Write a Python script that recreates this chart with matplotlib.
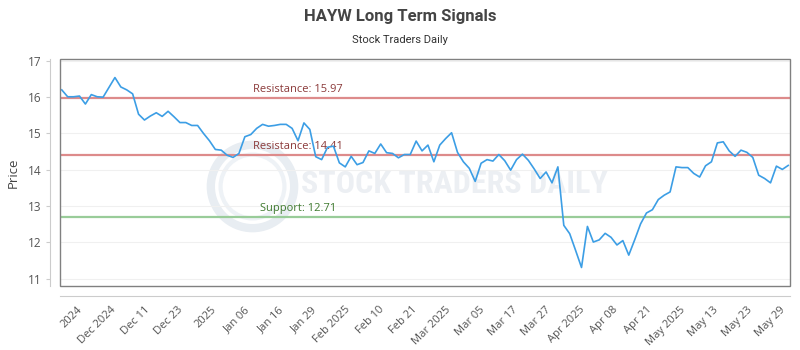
import numpy as np
import matplotlib
matplotlib.use('Agg')
import matplotlib.pyplot as plt
from matplotlib.patches import Rectangle

# closing prices (one per trading day)
prices = [
    16.20, 16.01, 16.01, 16.03, 15.81, 16.07, 16.01, 16.00, 16.27, 16.54,
    16.28, 16.20, 16.09, 15.53, 15.37, 15.48, 15.57, 15.47, 15.61, 15.46,
    15.30, 15.30, 15.22, 15.22, 15.00, 14.80, 14.56, 14.54, 14.40, 14.34,
    14.45, 14.91, 14.97, 15.14, 15.25, 15.20, 15.22, 15.25, 15.25, 15.14,
    14.80, 15.29, 15.11, 14.36, 14.28, 14.62, 14.65, 14.19, 14.08, 14.37,
    14.14, 14.20, 14.52, 14.45, 14.71, 14.47, 14.45, 14.33, 14.42, 14.42,
    14.79, 14.52, 14.68, 14.22, 14.68, 14.86, 15.02, 14.48, 14.22, 14.04,
    13.68, 14.18, 14.28, 14.24, 14.42, 14.25, 13.99, 14.28, 14.43, 14.26,
    14.02, 13.76, 13.94, 13.64, 14.08, 12.47, 12.24, 11.78, 11.31, 12.44,
    12.01, 12.07, 12.25, 12.14, 11.93, 12.05, 11.65, 12.07, 12.51, 12.81,
    12.90, 13.18, 13.30, 13.39, 14.08, 14.06, 14.06, 13.90, 13.80, 14.11,
    14.22, 14.74, 14.77, 14.52, 14.37, 14.54, 14.48, 14.34, 13.85, 13.76,
    13.64, 14.10, 14.01, 14.12,
]

tick_labels = [
    '2024', 'Dec 2024', 'Dec 11', 'Dec 23', '2025', 'Jan 06', 'Jan 16',
    'Jan 29', 'Feb 2025', 'Feb 10', 'Feb 21', 'Mar 2025', 'Mar 05',
    'Mar 17', 'Mar 27', 'Apr 2025', 'Apr 08', 'Apr 21', 'May 2025',
    'May 13', 'May 23', 'May 29',
]

resistance_hi = 15.97
resistance_lo = 14.41
support = 12.71

x = np.arange(len(prices))

fig = plt.figure(figsize=(8, 3.5), dpi=100)
ax = fig.add_axes([60 / 800, 64 / 350, 730 / 800, 227 / 350])

# watermark: round logo + name
ax.plot([0.263], [0.44], transform=ax.transAxes, marker='o', ms=60,
        mfc='none', mec='#e8edf2', mew=6, zorder=0)
ax.plot([0.263], [0.44], transform=ax.transAxes, marker='o', ms=46,
        mfc='none', mec='#eef2f6', mew=3, zorder=0)
ax.text(0.54, 0.45, 'STOCK TRADERS DAILY', transform=ax.transAxes,
        ha='center', va='center', fontsize=23, fontweight='bold',
        color='#eceff3',
        family=['Roboto Condensed', 'Liberation Sans Narrow', 'Roboto'],
        zorder=0)

for lvl in range(11, 18):
    ax.axhline(lvl, color='#f0f0f0', lw=0.8, zorder=1)

ax.axhline(resistance_hi, color='#dd8b8b', lw=1.6, zorder=2)
ax.axhline(resistance_lo, color='#dd8b8b', lw=1.6, zorder=2)
ax.axhline(support, color='#99cc99', lw=1.6, zorder=2)

ax.text(40, resistance_hi + 0.08, f'Resistance: {resistance_hi:.2f}',
        ha='center', va='bottom', fontsize=8, color='#8b3a3a', family='Open Sans')
ax.text(40, resistance_lo + 0.08, f'Resistance: {resistance_lo:.2f}',
        ha='center', va='bottom', fontsize=8, color='#8b3a3a', family='Open Sans')
ax.text(40, support + 0.08, f'Support: {support:.2f}',
        ha='center', va='bottom', fontsize=8, color='#3f7a2f', family='Open Sans')

ax.plot(x, prices, color='#3c9ee5', lw=1.2, zorder=3)

ax.set_xlim(-0.3, len(prices) - 0.7)
ax.set_ylim(10.8, 17.05)

# frame around the plot area
ax.add_patch(Rectangle((0, 0), 1, 1, transform=ax.transAxes, fill=False,
                       edgecolor='#808080', lw=1.0, zorder=4, clip_on=False))

for s in ['top', 'right']:
    ax.spines[s].set_visible(False)
for s in ['left', 'bottom']:
    ax.spines[s].set_position(('outward', 7.2))
    ax.spines[s].set_color('#cccccc')

ax.set_yticks(range(11, 18))
ax.set_xticks(np.linspace(2.6, 121.6, len(tick_labels)))
ax.set_xticklabels(tick_labels, rotation=45, ha='right', rotation_mode='anchor')
ax.tick_params(axis='y', length=3, color='#cccccc', labelsize=8.5,
               labelcolor='#555555', pad=3)
ax.tick_params(axis='x', length=0, labelsize=8,
               labelcolor='#555555', pad=6)
for lab in ax.get_xticklabels() + ax.get_yticklabels():
    lab.set_family('Open Sans')

ax.set_ylabel('Price', fontsize=9.5, color='#444444', family='Open Sans', labelpad=6)

fig.text(0.5, 1 - 16 / 350, 'HAYW Long Term Signals', ha='center', va='center',
         fontsize=12, fontweight='bold', color='#444444', family='Roboto')
fig.text(0.5, 1 - 40 / 350, 'Stock Traders Daily', ha='center', va='center',
         fontsize=8, color='#333333', family='Roboto')

fig.savefig('out.png', dpi=100)
